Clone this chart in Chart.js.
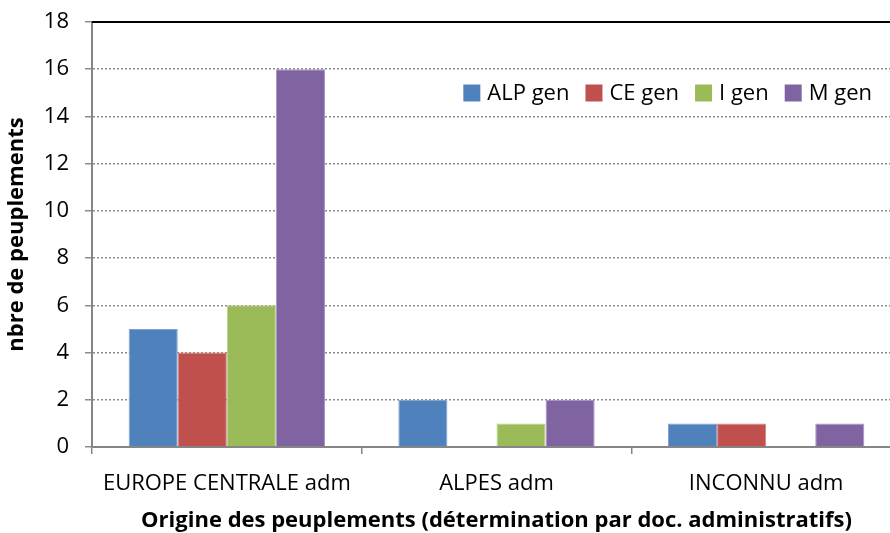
<!DOCTYPE html>
<html>
<head>
<meta charset="utf-8">
<script src="https://cdn.jsdelivr.net/npm/chart.js@4.4.0/dist/chart.umd.min.js"></script>
<style>
  html, body { margin: 0; padding: 0; background: #fff; }
  #clip { width: 890px; height: 533px; overflow: hidden; }
  #wrap { width: 902px; height: 533px; }
</style>
</head>
<body>
<div id="clip"><div id="wrap"><canvas id="graph_origine"></canvas></div></div>
<script>
const categories = ['EUROPE CENTRALE adm', 'ALPES adm', 'INCONNU adm'];
const alpGen = [5, 2, 1];
const ceGen = [4, 0, 1];
const iGen = [6, 1, 0];
const mGen = [16, 2, 1];
const yTicks = [0, 2, 4, 6, 8, 10, 12, 14, 16, 18];

const FONT = '"Open Sans", Lato, sans-serif';

// legend drawn inside the plot, top right, like the original
const insideLegend = {
  id: 'insideLegend',
  afterDraw(chart) {
    const ctx = chart.ctx;
    const area = chart.chartArea;
    ctx.save();
    // solid top border at 18
    ctx.strokeStyle = '#000';
    ctx.lineWidth = 2;
    ctx.beginPath();
    ctx.moveTo(area.left, area.top);
    ctx.lineTo(area.right, area.top);
    ctx.stroke();

    ctx.font = '22px ' + FONT;
    ctx.textBaseline = 'middle';
    const box = 17, gap = 7, space = 16;
    const items = chart.data.datasets.map(ds => ({ label: ds.label, color: ds.backgroundColor, w: ctx.measureText(ds.label).width }));
    let total = 0;
    items.forEach((it, i) => { total += box + gap + it.w + (i < items.length - 1 ? space : 0); });
    let x = 872 - total;
    const y = 93;
    items.forEach(it => {
      ctx.fillStyle = it.color;
      ctx.fillRect(x, y - box / 2, box, box);
      x += box + gap;
      ctx.fillStyle = '#000';
      ctx.fillText(it.label, x, y + 1);
      x += it.w + space;
    });
    ctx.restore();
  }
};

const chart = new Chart('graph_origine', {
  type: 'bar',
  data: {
    labels: categories,
    datasets: [
      { label: 'ALP gen', data: alpGen, backgroundColor: '#4F81BD', borderColor: '#7FA3D0', borderWidth: 1 },
      { label: 'CE gen', data: ceGen, backgroundColor: '#C0504D', borderColor: '#D58280', borderWidth: 1 },
      { label: 'I gen', data: iGen, backgroundColor: '#9BBB59', borderColor: '#B9D08A', borderWidth: 1 },
      { label: 'M gen', data: mGen, backgroundColor: '#8064A2', borderColor: '#A993C4', borderWidth: 1 }
    ]
  },
  options: {
    responsive: true,
    maintainAspectRatio: false,
    animation: false,
    layout: { padding: { top: 22, right: 1, left: 0, bottom: 0 } },
    datasets: { bar: { categoryPercentage: 0.728, barPercentage: 1.0 } },
    plugins: {
      legend: { display: false },
      tooltip: { enabled: false }
    },
    scales: {
      x: {
        grid: { offset: true, drawOnChartArea: false, drawTicks: true, tickLength: 7, color: '#868686', lineWidth: 1.5 },
        border: { display: true, color: '#868686', width: 2 },
        ticks: { color: '#000', font: { family: FONT, size: 22 }, padding: 17, maxRotation: 0 },
        title: {
          display: true,
          text: 'Origine des peuplements (détermination par doc. administratifs)',
          color: '#000',
          font: { family: FONT, size: 22, weight: 'bold' },
          padding: { top: 2, bottom: -1 }
        },
        afterFit(scale) { scale.height = 86; }
      },
      y: {
        min: 0,
        max: 18,
        afterBuildTicks(scale) { scale.ticks = yTicks.map(v => ({ value: v })); },
        grid: {
          color: '#8c8c8c',
          lineWidth: 1.5,
          tickLength: 7,
          drawTicks: true
        },
        border: { display: true, color: '#868686', width: 2, dash: [2, 2] },
        ticks: { color: '#000', font: { family: FONT, size: 22 }, padding: 16 },
        title: {
          display: true,
          text: 'nbre de peuplements',
          color: '#000',
          font: { family: FONT, size: 22, weight: 'bold' },
          padding: { top: 4, bottom: 0 }
        },
        afterFit(scale) {
          scale.width = 92;
          scale.paddingTop = 0; // let layout padding set the plot top
          scale.paddingBottom = 0;
        }
      }
    }
  },
  plugins: [insideLegend]
});
</script>
</body>
</html>
